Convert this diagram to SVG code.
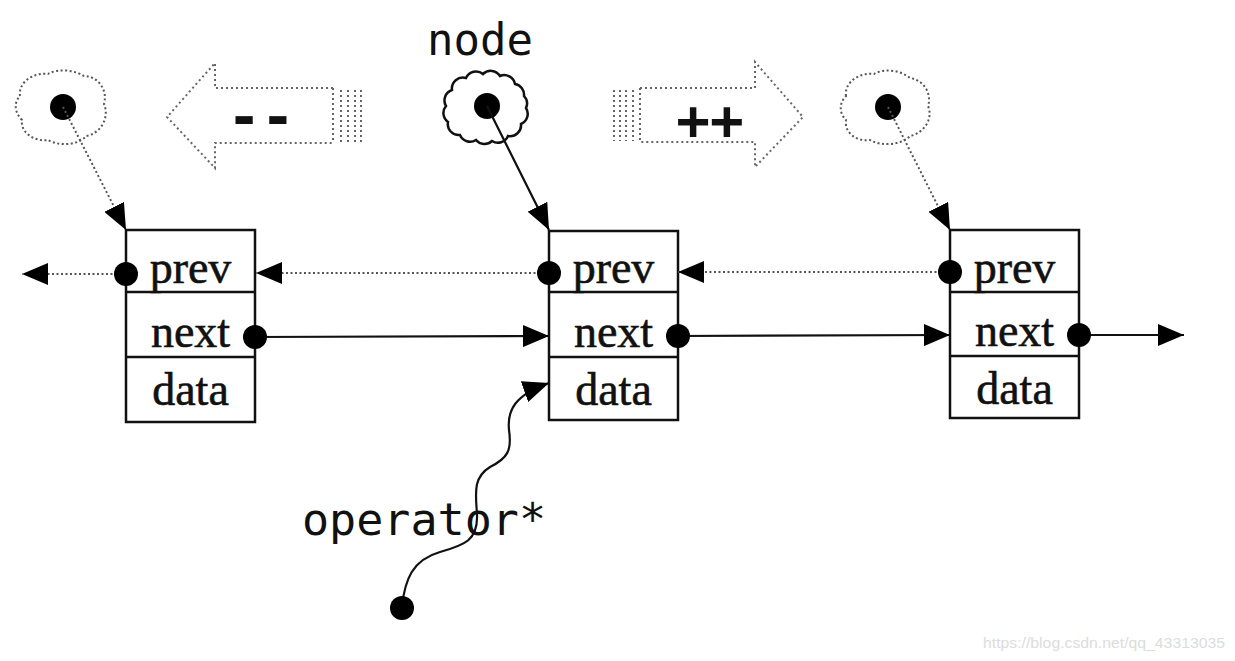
<svg xmlns="http://www.w3.org/2000/svg" width="1235" height="661" viewBox="0 0 1235 661">
<style>
.box{fill:#fff;stroke:#111;stroke-width:2.5}
.div{stroke:#111;stroke-width:2.5}
.ft{font-family:"Liberation Serif","Times New Roman",serif;font-size:46px;fill:#111;stroke:#111;stroke-width:0.6;text-anchor:middle}
.mono{font-family:"DejaVu Sans Mono","Liberation Mono",monospace;font-size:44px;fill:#111}
.op{font-family:"DejaVu Sans Mono","Liberation Mono",monospace;font-size:56px;font-weight:bold;fill:#111;text-anchor:middle}
.dot{fill:#000}
.solid{fill:none;stroke:#111;stroke-width:2.2}
.dotted{fill:none;stroke:#555;stroke-width:2;stroke-dasharray:2 2.5}
.fat{fill:none;stroke:#666;stroke-width:2;stroke-dasharray:2 3}
</style>
<defs>
<marker id="ah" markerUnits="userSpaceOnUse" markerWidth="26" markerHeight="22" refX="26" refY="11" orient="auto">
<path d="M0,0 L26,11 L0,22 z" fill="#000"/>
</marker>
</defs>
<rect width="1235" height="661" fill="#fff"/>

<g id="ptr-left">
<path class="dotted" d="M20,96 C18,82 34,72 48,74 C58,68 74,70 84,76 C98,76 108,90 104,104 C110,118 100,134 86,136 C78,146 58,146 48,140 C34,142 20,132 22,120 C14,112 14,102 20,96 z"/>
<circle class="dot" cx="63" cy="107" r="13"/>
</g>

<g id="ptr-node">
<text class="mono" x="427" y="55">node</text>
<path fill="#fff" stroke="#111" stroke-width="2.5" d="M526,108 A11,11 0 0,1 521,124 A11,11 0 0,1 508,136 A11,11 0 0,1 492,141 A11,11 0 0,1 476,140 A11,11 0 0,1 460,135 A11,11 0 0,1 448,122 A11,11 0 0,1 446,106 A11,11 0 0,1 452,90 A11,11 0 0,1 466,78 A11,11 0 0,1 483,74 A11,11 0 0,1 500,76 A11,11 0 0,1 515,84 A11,11 0 0,1 524,96 A11,11 0 0,1 526,108 z"/>
<circle class="dot" cx="487" cy="106" r="13"/>
</g>

<g id="ptr-right">
<path class="dotted" d="M846,96 C844,82 860,72 874,74 C884,68 900,70 910,78 C924,80 932,94 928,106 C934,120 922,134 910,136 C900,146 880,146 870,140 C856,142 844,132 846,120 C838,112 840,102 846,96 z"/>
<circle class="dot" cx="888" cy="107" r="13"/>
</g>

<g id="arrow-dec">
<path class="fat" d="M333,88 L215,88 L215,63 L167,117 L215,168 L215,143 L333,143"/>
<path class="fat" d="M333,88 L333,143 M341,90 L341,142 M348,90 L348,142 M355,90 L355,142 M361,90 L361,142"/>
<text class="op" x="261" y="136">--</text>
</g>

<g id="arrow-inc">
<path class="fat" d="M640,88 L755,88 L755,62 L803,117 L755,167 L755,142 L640,142"/>
<path class="fat" d="M640,88 L640,142 M633,90 L633,141 M626,90 L626,141 M620,90 L620,141 M614,90 L614,141"/>
<text class="op" x="710" y="139">++</text>
</g>

<g id="node1">
<rect class="box" x="126" y="230" width="129" height="192"/>
<line class="div" x1="126" y1="292" x2="255" y2="292"/>
<line class="div" x1="126" y1="357" x2="255" y2="357"/>
<text class="ft" x="190.5" y="283">prev</text>
<text class="ft" x="190.5" y="347">next</text>
<text class="ft" x="190.5" y="405">data</text>
</g>

<g id="node2">
<rect class="box" x="549" y="231" width="129" height="189"/>
<line class="div" x1="549" y1="292" x2="678" y2="292"/>
<line class="div" x1="549" y1="357" x2="678" y2="357"/>
<text class="ft" x="613.5" y="283">prev</text>
<text class="ft" x="613.5" y="347">next</text>
<text class="ft" x="613.5" y="405">data</text>
</g>

<g id="node3">
<rect class="box" x="950" y="230" width="129" height="188"/>
<line class="div" x1="950" y1="292" x2="1079" y2="292"/>
<line class="div" x1="950" y1="356" x2="1079" y2="356"/>
<text class="ft" x="1014.5" y="283">prev</text>
<text class="ft" x="1014.5" y="346">next</text>
<text class="ft" x="1014.5" y="404">data</text>
</g>

<g id="operator">
<text class="mono" x="302" y="535" textLength="244" lengthAdjust="spacingAndGlyphs">operator*</text>
</g>

<g id="connectors">
<line class="dotted" x1="63" y1="107" x2="126" y2="230" marker-end="url(#ah)"/>
<line class="solid" x1="487" y1="106" x2="549" y2="230" marker-end="url(#ah)"/>
<line class="dotted" x1="888" y1="107" x2="950" y2="230" marker-end="url(#ah)"/>

<line class="dotted" x1="126" y1="274" x2="22" y2="274" marker-end="url(#ah)"/>
<line class="dotted" x1="549" y1="273" x2="256" y2="273" marker-end="url(#ah)"/>
<line class="dotted" x1="950" y1="272" x2="678" y2="272" marker-end="url(#ah)"/>

<line class="solid" x1="255" y1="337" x2="549" y2="336" marker-end="url(#ah)"/>
<line class="solid" x1="678" y1="336" x2="950" y2="335" marker-end="url(#ah)"/>
<line class="solid" x1="1079" y1="335" x2="1184" y2="335" marker-end="url(#ah)"/>

<path class="solid" d="M402,606 C405,580 412,560 440,552 C465,545 478,540 477,515 C476,495 472,478 490,467 C508,458 512,450 509,430 C507,410 515,395 549,383" marker-end="url(#ah)"/>

<circle class="dot" cx="126" cy="274" r="12"/>
<circle class="dot" cx="255" cy="337" r="12"/>
<circle class="dot" cx="549" cy="273" r="12"/>
<circle class="dot" cx="678" cy="336" r="12"/>
<circle class="dot" cx="950" cy="272" r="12"/>
<circle class="dot" cx="1079" cy="335" r="12"/>
<circle class="dot" cx="402" cy="608" r="12"/>
</g>

<text x="983" y="648" font-family="Liberation Sans,Arial,sans-serif" font-size="15" fill="#dcdcdc" textLength="242" lengthAdjust="spacingAndGlyphs">https://blog.csdn.net/qq_43313035</text>
</svg>
